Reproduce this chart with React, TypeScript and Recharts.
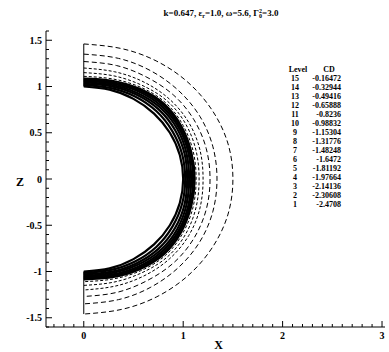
import React from 'react';
import { ComposedChart, Line, XAxis, YAxis } from 'recharts';

// contour plot of the field between the body (r = 1) and the outer boundary
const titleParts = ['k=0.647, ε', 'r', '=1.0, ω=5.6, Γ', '0', '2', '=3.0'];

const legendLevels = [15, 14, 13, 12, 11, 10, 9, 8, 7, 6, 5, 4, 3, 2, 1];
const legendValues = [
  '-0.16472', '-0.32944', '-0.49416', '-0.65888', '-0.8236', '-0.98832', '-1.15304', '-1.31776',
  '-1.48248', '-1.6472', '-1.81192', '-1.97664', '-2.14136', '-2.30608', '-2.4708',
];

// radius of each contour read at these polar angles (deg), upper half; lower half is the mirror
const contourAngles = [90, 75, 60, 45, 30, 15, 0];
const contourRadii = [
  [1.0, 1.0, 1.0, 1.0, 1.0, 1.0, 1.0],
  [1.015, 1.02, 1.03, 1.035, 1.03, 1.025, 1.02],
  [1.03, 1.04, 1.055, 1.065, 1.06, 1.05, 1.04],
  [1.045, 1.055, 1.075, 1.09, 1.085, 1.07, 1.06],
  [1.06, 1.07, 1.095, 1.11, 1.105, 1.09, 1.08],
  [1.075, 1.085, 1.11, 1.13, 1.12, 1.105, 1.1],
  [1.085, 1.1, 1.125, 1.145, 1.135, 1.12, 1.115],
  [1.11, 1.12, 1.145, 1.165, 1.155, 1.14, 1.13],
  [1.15, 1.155, 1.17, 1.19, 1.185, 1.17, 1.16],
  [1.2, 1.2, 1.21, 1.22, 1.22, 1.21, 1.2],
  [1.27, 1.27, 1.27, 1.28, 1.28, 1.275, 1.27],
  [1.35, 1.35, 1.35, 1.35, 1.35, 1.345, 1.34],
  [1.46, 1.46, 1.47, 1.48, 1.49, 1.5, 1.5],
];
// symmetry axis pieces at x = 0
const axisTop = [{ x: 0, z: 1.0 }, { x: 0, z: 1.46 }];
const axisBottom = [{ x: 0, z: -1.0 }, { x: 0, z: -1.46 }];

const xMajorTicks = [0, 1, 2, 3];
const yMajorTicks = [-1.5, -1, -0.5, 0, 0.5, 1, 1.5];

const r1 = (v: number) => Math.round(v * 10) / 10;
const minor = (from: number, to: number) => {
  const out: number[] = [];
  for (let v = from; v <= to + 1e-9; v += 0.1) out.push(r1(v));
  return out;
};
const xTicks = minor(-0.3, 3.0);
const yTicks = minor(-1.6, 1.6);

const toPoints = (radii: number[]) => {
  const upper = contourAngles.map((a, i) => ({ a, r: radii[i] }));
  const lower = upper.slice(0, -1).reverse().map((p) => ({ a: -p.a, r: p.r }));
  return [...upper, ...lower].map((p) => ({
    x: p.r * Math.cos((p.a * Math.PI) / 180),
    z: p.r * Math.sin((p.a * Math.PI) / 180),
  }));
};

const font = '"Liberation Serif", "Times New Roman", serif';

const XTick = (props: any) => {
  const { x, y, payload } = props;
  const major = xMajorTicks.includes(payload.value);
  return (
    <g>
      <line x1={x} y1={y} x2={x} y2={y - (major ? 6 : 3)} stroke="#000" />
      {major && (
        <text x={x} y={y + 12} textAnchor="middle" fontFamily={font} fontWeight="bold" fontSize={10} fill="#000">
          {payload.value}
        </text>
      )}
    </g>
  );
};

const YTick = (props: any) => {
  const { x, y, payload } = props;
  const major = yMajorTicks.includes(payload.value);
  return (
    <g>
      <line x1={x} y1={y} x2={x + (major ? 6 : 3)} y2={y} stroke="#000" />
      {major && (
        <text x={x - 4} y={y + 3.5} textAnchor="end" fontFamily={font} fontWeight="bold" fontSize={10} fill="#000">
          {payload.value}
        </text>
      )}
    </g>
  );
};

export default function App() {
  return (
    <div style={{ position: 'absolute', left: 0, top: 0, width: 389, height: 352, background: '#fff' }}>
      <ComposedChart width={389} height={352} margin={{ top: 31, right: 4, bottom: 0, left: 0 }}>
        <XAxis
          type="number"
          dataKey="x"
          domain={[-0.38, 3.03]}
          allowDataOverflow
          ticks={xTicks}
          interval={0}
          tick={<XTick />}
          tickLine={false}
          tickSize={0}
          tickMargin={0}
          height={25}
          axisLine={{ stroke: '#000' }}
          label={{ value: 'X', position: 'insideBottom', offset: 3, dx: 3, fontFamily: font, fontWeight: 'bold', fontSize: 12, fill: '#000' }}
        />
        <YAxis
          type="number"
          dataKey="z"
          domain={[-1.6, 1.6]}
          allowDataOverflow
          ticks={yTicks}
          interval={0}
          tick={<YTick />}
          tickLine={false}
          tickSize={0}
          tickMargin={0}
          width={46}
          axisLine={{ stroke: '#000' }}
          label={{ value: 'Z', position: 'insideLeft', offset: 16, dy: 3, fontFamily: font, fontWeight: 'bold', fontSize: 12, fill: '#000' }}
        />
        {contourRadii.map((radii, i) => (
          <Line
            key={i}
            data={toPoints(radii)}
            dataKey="z"
            type="natural"
            stroke="#000"
            strokeWidth={i < 7 ? 2.2 : 1}
            strokeDasharray={i < 7 ? undefined : i < 10 ? '3 2' : '5 3'}
            dot={false}
            activeDot={false}
            isAnimationActive={false}
          />
        ))}
        <Line data={axisTop} dataKey="z" stroke="#000" strokeWidth={1} dot={false} isAnimationActive={false} />
        <Line data={axisBottom} dataKey="z" stroke="#000" strokeWidth={1} dot={false} isAnimationActive={false} />
      </ComposedChart>
      <svg width={389} height={352} style={{ position: 'absolute', left: 0, top: 0, pointerEvents: 'none' }}>
        <text x={221} y={16} textAnchor="middle" fontFamily={font} fontWeight="bold" fontSize={9} fill="#000">
          {titleParts[0]}
          <tspan fontSize={6} dy={2}>{titleParts[1]}</tspan>
          <tspan dy={-2}>{titleParts[2]}</tspan>
          <tspan fontSize={6} dy={2}>{titleParts[3]}</tspan>
          <tspan fontSize={6} dx={-3} dy={-5}>{titleParts[4]}</tspan>
          <tspan dy={3}>{titleParts[5]}</tspan>
        </text>
        <g fontFamily={font} fontWeight="bold" fontSize={8} fill="#000">
          <text x={298} y={72} textAnchor="middle">Level</text>
          <text x={329} y={72} textAnchor="middle">CD</text>
          {legendLevels.map((lv, i) => (
            <g key={lv}>
              <text x={295} y={81 + i * 9} textAnchor="middle">{lv}</text>
              <text x={341} y={81 + i * 9} textAnchor="end">{legendValues[i]}</text>
            </g>
          ))}
        </g>
      </svg>
    </div>
  );
}
